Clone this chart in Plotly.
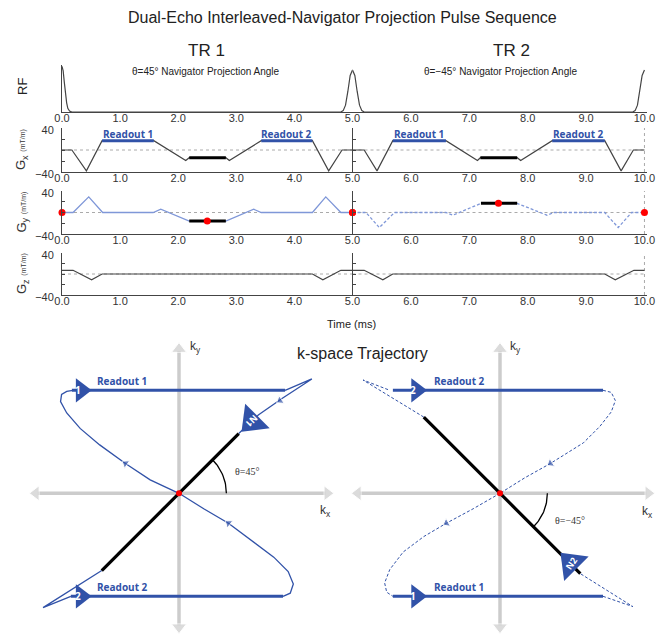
import numpy as np
import plotly.graph_objects as go

W, H = 666, 638
OFF = 8  # the page places the figure 8 px from the top-left corner

# ---------------- pulse-sequence data (time in ms, gradients in mT/m) ----------------
rf_t = [0.0, 0.02, 0.04, 0.06, 0.08, 0.10, 0.13, 0.17, 4.80, 4.84, 4.88, 4.92, 4.96, 5.00,
        5.04, 5.08, 5.12, 5.16, 5.20, 9.80, 9.84, 9.88, 9.92, 9.96, 10.0]
rf_v = [1.0, 0.9, 0.65, 0.4, 0.2, 0.08, 0.02, 0.0, 0.0, 0.03, 0.15, 0.45, 0.8, 0.92,
        0.8, 0.45, 0.15, 0.03, 0.0, 0.0, 0.03, 0.15, 0.45, 0.8, 0.92]

gx1_t = [0.0, 0.17, 0.42, 0.69, 1.58, 2.13, 2.19, 2.82, 2.88, 3.43, 4.31, 4.59, 4.82, 5.0]
gx1_v = [0, 0, -38, 17, 17, -19, -14, -14, -19, 17, 17, -38, 0, 0]
gx2_t = [5.0, 5.2, 5.42, 5.69, 6.6, 7.14, 7.19, 7.82, 7.88, 8.42, 9.32, 9.6, 9.81, 10.0]
gx2_v = [0, 0, -38, 17, 17, -19, -14, -14, -19, 17, 17, -38, 0, 0]

gy1_t = [0.0, 0.19, 0.46, 0.7, 1.57, 1.7, 2.19, 2.82, 3.3, 3.43, 4.31, 4.54, 4.8, 5.0]
gy1_v = [0, 0, 29, 0, 0, 6, -16, -16, 6, 0, 0, 29, 0, 0]
gy2_t = [5.0, 5.23, 5.46, 5.72, 6.6, 6.72, 7.2, 7.82, 8.33, 8.45, 9.32, 9.55, 9.78, 10.0]
gy2_v = [0, 0, -28, 0, 0, -5, 17, 17, -5, 0, 0, -28, 0, 0]

gz1_t = [0.0, 0.19, 0.51, 0.69, 4.31, 4.49, 4.8, 5.0]
gz1_v = [7, 7, -11, 0, 0, -11, 7, 7]
gz2_t = [5.0, 5.2, 5.52, 5.69, 9.32, 9.5, 9.82, 10.0]
gz2_v = [7, 7, -11, 0, 0, -11, 7, 7]

readout_level = 17
readouts_tr1 = [(0.69, 1.58), (3.43, 4.31)]
readouts_tr2 = [(5.69, 6.6), (8.42, 9.32)]
readout_names = ["Readout 1", "Readout 2"]
nav_gx = [((2.19, 2.82), -14), ((7.19, 7.82), -14)]
nav_gy = [((2.19, 2.82), -16), ((7.2, 7.82), 17)]
kcenter_t = [0.0, 2.5, 5.0, 7.5, 10.0]
kcenter_gy = [0, -16, 0, 17, 0]

x_ticks_tr1 = [0, 1, 2, 3, 4]
x_ticks_tr2 = [5, 6, 7, 8, 9, 10]
y_major = [-40, 40]
y_major_text = ["\u221240", "40"]
y_minor = [-20, 0, 20]

# ---------------- k-space data (arbitrary units, readout |ky| = 1) ----------------
k1_pre_x = [0, -0.28, -0.52, -0.77, -0.96, -1.09, -1.15, -1.14, -1.09, -1.03]
k1_pre_y = [0, 0.13, 0.29, 0.47, 0.63, 0.78, 0.89, 0.96, 0.99, 1.0]
k1_ro1_x = [-1.04, 1.03]
k1_ro1_y = [1.0, 1.0]
k1_mid_x = [1.03, 1.29, 1.0, 0.77, 0.58]
k1_mid_y = [1.0, 1.11, 0.92, 0.76, 0.58]
k1_nav_x = [0.58, -0.75]
k1_nav_y = [0.58, -0.75]
k1_low_x = [-0.75, -1.0, -1.32, -1.05]
k1_low_y = [-0.75, -0.91, -1.11, -1.0]
k1_ro2_x = [-1.05, 1.01]
k1_ro2_y = [-1.0, -1.0]
k1_ret_x = [1.01, 1.08, 1.11, 1.06, 0.92, 0.72, 0.48, 0.24, 0]
k1_ret_y = [-1.0, -0.97, -0.88, -0.76, -0.62, -0.47, -0.29, -0.15, 0]
k1_arrows = [((-0.28, 0.13), (-0.52, 0.29)), ((1.29, 1.11), (0.98, 0.90)), ((0.72, -0.47), (0.48, -0.29))]

k2_pre_x = [0, -0.26, -0.52, -0.74, -0.94, -1.07, -1.12, -1.10, -1.04]
k2_pre_y = [0, -0.15, -0.29, -0.42, -0.57, -0.74, -0.87, -0.96, -1.0]
k2_ro1_x = [-1.04, 1.0]
k2_ro1_y = [-1.0, -1.0]
k2_mid_x = [1.0, 1.29, 0.78]
k2_mid_y = [-1.0, -1.10, -0.78]
k2_nav_x = [0.78, -0.74]
k2_nav_y = [-0.78, 0.74]
k2_up_x = [-0.74, -1.33, -1.07]
k2_up_y = [0.74, 1.10, 1.0]
k2_ro2_x = [-1.04, 1.0]
k2_ro2_y = [1.0, 1.0]
k2_ret_x = [1.0, 1.08, 1.12, 1.08, 0.97, 0.81, 0.49, 0.24, 0]
k2_ret_y = [1.0, 0.98, 0.90, 0.79, 0.65, 0.49, 0.29, 0.15, 0]
k2_arrows = [((0.81, 0.49), (0.49, 0.29)), ((-0.26, -0.15), (-0.52, -0.29))]

theta_tr1 = 45
theta_tr2 = -45

BLUE = "#3152a8"
LBLUE = "#7f97d8"
GREY = "#444444"
AXG = "#cccccc"
FONT = "Liberation Sans"

fig = go.Figure()


def xn(n):
    return "x" if n == 1 else f"x{n}"


def yn(n):
    return "y" if n == 1 else f"y{n}"


def fx(px):
    return (px - OFF) / W


def fy(py):
    return 1 - (py - OFF) / H


def add(n, x, y, **kw):
    kw.setdefault("mode", "lines")
    fig.add_trace(go.Scatter(x=x, y=y, xaxis=xn(n), yaxis=yn(n), hoverinfo="skip",
                             showlegend=False, **kw))


row_px = [(65, 112), (128, 172), (191, 234), (253, 295)]
col_px = [(62, 352.5), (352.5, 646.8)]
col_rng = [[0, 5], [5, 10.04]]
row_rng = [[0, 1.03], [-40, 40], [-40, 40], [-40, 40]]
layout = {}
for r in range(4):
    for c in range(2):
        n = r * 2 + c + 1
        xk = "xaxis" if n == 1 else f"xaxis{n}"
        yk = "yaxis" if n == 1 else f"yaxis{n}"
        tv = x_ticks_tr1 if c == 0 else x_ticks_tr2
        layout[xk] = dict(domain=[fx(col_px[c][0]), fx(col_px[c][1])], range=col_rng[c],
                          anchor=yn(n), showgrid=False, zeroline=False, showline=True,
                          linecolor=GREY, linewidth=1, tickvals=tv,
                          ticktext=[f"{v:.1f}" for v in tv], ticks="",
                          ticklabelstandoff=-4,
                          tickfont=dict(family=FONT, size=11, color="#333"),
                          fixedrange=True, automargin=False)
        ya = dict(domain=[fy(row_px[r][1]), fy(row_px[r][0])], range=row_rng[r],
                  anchor=xn(n), showgrid=False, zeroline=False, fixedrange=True,
                  linecolor=GREY, linewidth=1, automargin=False)
        if r == 0:
            ya.update(showline=(c == 0), ticks="", showticklabels=False)
        else:
            ya.update(showline=True, ticks="inside", ticklen=3, tickcolor=GREY,
                      tickvals=y_major, ticktext=y_major_text, showticklabels=(c == 0),
                      ticklabelshift=2, ticklabelstandoff=5,
                      minor=dict(tickvals=y_minor, ticks="inside", ticklen=3, tickcolor=GREY),
                      tickfont=dict(family=FONT, size=11, color="#333"))
        layout[yk] = ya

# k-space axes (1 unit = 103 px in both directions)
layout["xaxis9"] = dict(domain=[0, fx(343)], range=[(OFF - 179) / 103, (343 - 179) / 103],
                        visible=False, anchor="y9", fixedrange=True)
layout["yaxis9"] = dict(domain=[0, fy(338)], range=[(493.3 - 646) / 103, (493.3 - 338) / 103],
                        visible=False, anchor="x9", fixedrange=True)
layout["xaxis10"] = dict(domain=[fx(343), 1], range=[(343 - 500) / 103, (674 - 500) / 103],
                         visible=False, anchor="y10", fixedrange=True)
layout["yaxis10"] = dict(domain=[0, fy(338)], range=[(493.3 - 646) / 103, (493.3 - 338) / 103],
                         visible=False, anchor="x10", fixedrange=True)

add(1, rf_t, rf_v, line=dict(color=GREY, width=1.2))
add(2, rf_t, rf_v, line=dict(color=GREY, width=1.2))

for r in (1, 2, 3):
    add(r * 2 + 1, [0, 5], [0, 0], line=dict(color="#aaaaaa", width=1, dash="dot"))
    add(r * 2 + 2, [5, 10], [0, 0], line=dict(color="#aaaaaa", width=1, dash="dot"))
    add(r * 2 + 2, [10, 10], [-40, 40], line=dict(color="#aaaaaa", width=1, dash="dot"))

add(3, gx1_t, gx1_v, line=dict(color=GREY, width=1.2))
add(4, gx2_t, gx2_v, line=dict(color=GREY, width=1.2))
for n, ros in ((3, readouts_tr1), (4, readouts_tr2)):
    for (a, b), name in zip(ros, readout_names):
        add(n, [a, b], [readout_level, readout_level], line=dict(color=BLUE, width=3))
        fig.add_annotation(x=(a + b) / 2, y=readout_level, xref=xn(n), yref=yn(n),
                           text=f"<b>{name}</b>", showarrow=False, yanchor="bottom",
                           xanchor="center", yshift=-2,
                           font=dict(family="Open Sans", size=10, color=BLUE))
for n, ((a, b), lv) in zip((3, 4), nav_gx):
    add(n, [a, b], [lv, lv], line=dict(color="black", width=3))

add(5, gy1_t, gy1_v, line=dict(color=LBLUE, width=1.3))
add(6, gy2_t, gy2_v, line=dict(color=LBLUE, width=1.3, dash="3px,2px"))
for n, ((a, b), lv) in zip((5, 6), nav_gy):
    add(n, [a, b], [lv, lv], line=dict(color="black", width=3))
add(5, [t for t in kcenter_t if t <= 5], [v for t, v in zip(kcenter_t, kcenter_gy) if t <= 5],
    mode="markers", marker=dict(color="red", size=7), cliponaxis=False)
add(6, [t for t in kcenter_t if t >= 5], [v for t, v in zip(kcenter_t, kcenter_gy) if t >= 5],
    mode="markers", marker=dict(color="red", size=7), cliponaxis=False)

add(7, gz1_t, gz1_v, line=dict(color=GREY, width=1.2))
add(8, gz2_t, gz2_v, line=dict(color=GREY, width=1.2))

# k-space axes with arrowheads
for n, xr, yr in ((9, (-1.45, 1.50), (-1.36, 1.46)), (10, (-1.44, 1.50), (-1.36, 1.46))):
    add(n, [xr[0] + 0.08, xr[1] - 0.08], [0, 0], line=dict(color=AXG, width=3.5))
    add(n, [0, 0], [yr[0] + 0.08, yr[1] - 0.08], line=dict(color=AXG, width=3.5))
    for tx, ty in ((xr[1] - 0.06, 0), (xr[0] + 0.06, 0), (0, yr[1] - 0.06), (0, yr[0] + 0.06)):
        add(n, [0, tx], [0, ty], mode="markers", cliponaxis=False,
            marker=dict(symbol="triangle-up", size=[0, 13], color=AXG, angleref="previous"))

k_axis_labels = [(9, 0.16, 1.42, "k<sub>y</sub>"), (9, 1.42, -0.17, "k<sub>x</sub>"),
                 (10, 0.15, 1.42, "k<sub>y</sub>"), (10, 1.43, -0.18, "k<sub>x</sub>")]
for n, x, y, t in k_axis_labels:
    fig.add_annotation(x=x, y=y, xref=xn(n), yref=yn(n), text=t, showarrow=False,
                       xanchor="center", yanchor="middle",
                       font=dict(family=FONT, size=12, color="#333"))

thin1 = dict(color=BLUE, width=1.3)
add(9, k1_pre_x, k1_pre_y, line=thin1)
add(9, k1_mid_x, k1_mid_y, line=thin1)
add(9, k1_low_x, k1_low_y, line=thin1)
add(9, k1_ret_x, k1_ret_y, line=thin1)
add(9, k1_ro1_x, k1_ro1_y, line=dict(color=BLUE, width=3))
add(9, k1_ro2_x, k1_ro2_y, line=dict(color=BLUE, width=3))
add(9, k1_nav_x, k1_nav_y, line=dict(color="black", width=3.2))
for p, q in k1_arrows:
    add(9, [p[0], q[0]], [p[1], q[1]], mode="markers",
        marker=dict(symbol="triangle-up", size=[0, 8], color=BLUE, angleref="previous"))

thin2 = dict(color=BLUE, width=1, dash="3px,2px")
add(10, k2_pre_x, k2_pre_y, line=thin2)
add(10, k2_mid_x, k2_mid_y, line=thin2)
add(10, k2_up_x, k2_up_y, line=thin2)
add(10, k2_ret_x, k2_ret_y, line=thin2)
add(10, k2_ro1_x, k2_ro1_y, line=dict(color=BLUE, width=3))
add(10, k2_ro2_x, k2_ro2_y, line=dict(color=BLUE, width=3))
add(10, k2_nav_x, k2_nav_y, line=dict(color="black", width=3.2))
for p, q in k2_arrows:
    add(10, [p[0], q[0]], [p[1], q[1]], mode="markers",
        marker=dict(symbol="triangle-up", size=[0, 8], color=BLUE, angleref="previous"))

big_tri = [(9, -0.95, 1.0, 90, 21, "1", 0), (9, -0.95, -1.0, 90, 21, "2", 0),
           (9, 0.71, 0.70, 225, 30, "N1", 135),
           (10, -0.81, 1.0, 90, 21, "2", 0), (10, -0.81, -1.0, 90, 21, "1", 0),
           (10, 0.69, -0.68, 315, 30, "N2", -55)]
for n, x, y, ang, sz, lab, ta in big_tri:
    add(n, [x], [y], mode="markers",
        marker=dict(symbol="triangle-up", size=sz, angle=ang, color=BLUE))
    dx = -0.03 if ang == 90 else 0
    fig.add_annotation(x=x + dx, y=y, xref=xn(n), yref=yn(n), text=f"<b>{lab}</b>",
                       showarrow=False, textangle=ta, xanchor="center", yanchor="middle",
                       font=dict(family="Open Sans", size=10 if len(lab) == 1 else 9,
                                 color="white"))

k_ro_labels = [(9, -0.82, 1.0, "Readout 1"), (9, -0.82, -1.0, "Readout 2"),
               (10, -0.66, 1.0, "Readout 2"), (10, -0.66, -1.0, "Readout 1")]
for n, x, y, t in k_ro_labels:
    fig.add_annotation(x=x, y=y, xref=xn(n), yref=yn(n), text=f"<b>{t}</b>",
                       showarrow=False, xanchor="left", yanchor="bottom",
                       font=dict(family="Open Sans", size=10, color=BLUE))

for n, th, lx, ly, lab in ((9, theta_tr1, 0.52, 0.21, "\u03b8=45\u00b0"),
                           (10, theta_tr2, 0.51, -0.26, "\u03b8=\u221245\u00b0")):
    a = np.radians(np.linspace(0, th, 25))
    add(n, 0.46 * np.cos(a), 0.46 * np.sin(a), line=dict(color="black", width=1.3))
    fig.add_annotation(x=lx, y=ly, xref=xn(n), yref=yn(n), text=lab, showarrow=False,
                       xanchor="left", yanchor="middle",
                       font=dict(family="Liberation Serif", size=10, color="#333"))

add(9, [0], [0], mode="markers", marker=dict(color="red", size=6))
add(10, [0], [0], mode="markers", marker=dict(color="red", size=6))

texts = [
    (342, 18, "Dual-Echo Interleaved-Navigator Projection Pulse Sequence", 16, 0),
    (206, 50, "TR 1", 17, 0),
    (511, 50, "TR 2", 17, 0),
    (206, 71, "\u03b8=45\u00b0 Navigator Projection Angle", 10, 0),
    (500, 71, "\u03b8=\u221245\u00b0 Navigator Projection Angle", 10, 0),
    (351, 324, "Time (ms)", 11, 0),
    (362, 353, "k-space Trajectory", 16, 0),
    (22, 87, "RF", 13, -90),
]
for px, py, t, s, ang in texts:
    fig.add_annotation(x=fx(px), y=fy(py), xref="paper", yref="paper", text=t,
                       showarrow=False, textangle=ang, xanchor="center", yanchor="middle",
                       font=dict(family=FONT, size=s, color="#222"))

for r, g in zip((1, 2, 3), ("x", "y", "z")):
    cy = (row_px[r][0] + row_px[r][1]) / 2
    fig.add_annotation(x=fx(22), y=fy(cy), xref="paper", yref="paper", textangle=-90,
                       xanchor="center", yanchor="middle",
                       text=f"G<sub>{g}</sub> <span style='font-size:7px'>(mT/m)</span>",
                       showarrow=False, font=dict(family=FONT, size=13, color="#333"))

fig.update_layout(width=W, height=H, margin=dict(l=0, r=0, t=0, b=0, pad=0),
                  paper_bgcolor="white", plot_bgcolor="white", showlegend=False, **layout)

fig.write_html("out.html")
